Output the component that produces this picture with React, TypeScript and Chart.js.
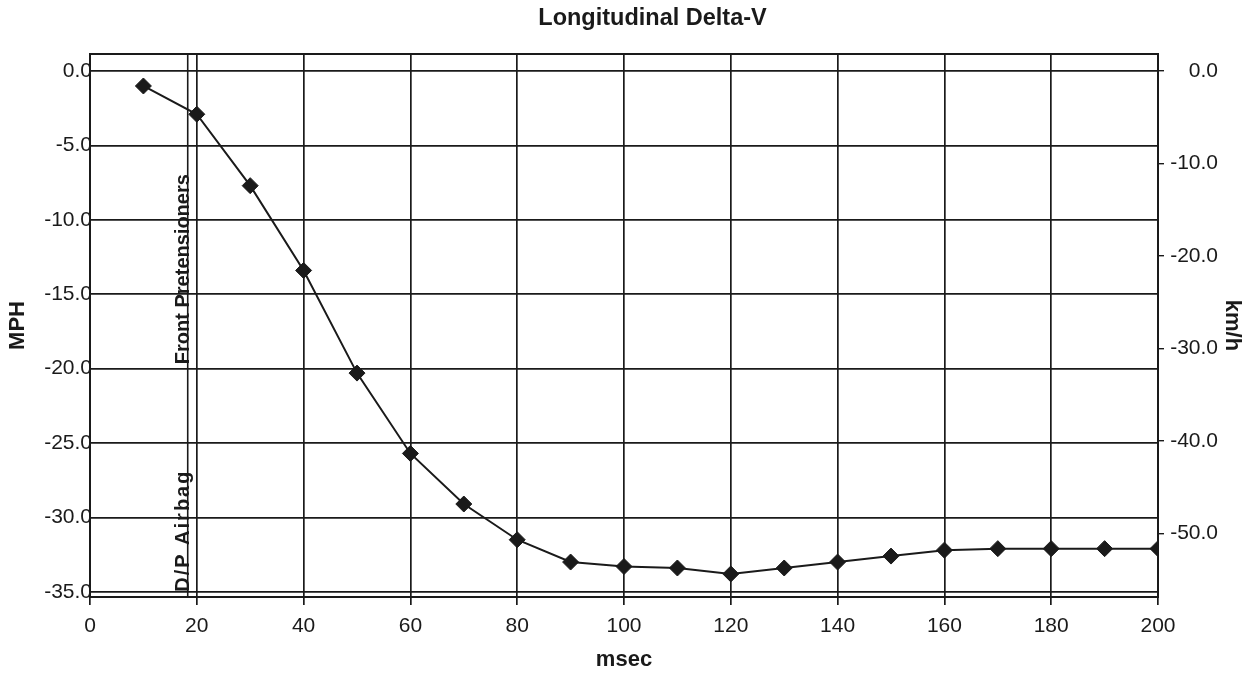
import React, { useEffect, useRef } from 'react';
import { Chart, registerables } from 'chart.js';

Chart.register(...registerables);

const timeMs = [10, 20, 30, 40, 50, 60, 70, 80, 90, 100, 110, 120, 130, 140, 150, 160, 170, 180, 190, 200];
const deltaVMph = [-1.0, -2.9, -7.7, -13.4, -20.3, -25.7, -29.1, -31.5, -33.0, -33.3, -33.4, -33.8, -33.4, -33.0, -32.6, -32.2, -32.1, -32.1, -32.1, -32.1];
const mphTicks = [0, -5, -10, -15, -20, -25, -30, -35];
const kmhTicks = [0, -10, -20, -30, -40, -50];
const eventTime = 18.3;
const eventLabels = ['Front Pretensioners', 'D/P Airbag'];
const eventLabelStartMph = [-19.7, -35.0];
const MPH_TO_KMH = 1.609344;
const yMinMph = -35.35;
const yMaxMph = 1.15;

const FONT = '"Liberation Sans", Arial, Helvetica, sans-serif';
const INK = '#1a1a1a';

const decorPlugin = {
  id: 'decor',
  beforeDatasetsDraw(chart: any) {
    const { ctx, chartArea, scales } = chart;
    const x = scales.x.getPixelForValue(eventTime);
    ctx.save();
    ctx.strokeStyle = INK;
    ctx.lineWidth = 1.6;
    ctx.beginPath();
    ctx.moveTo(x, chartArea.top);
    ctx.lineTo(x, chartArea.bottom);
    ctx.stroke();
    ctx.fillStyle = INK;
    ctx.font = `bold 20px ${FONT}`;
    ctx.textBaseline = 'alphabetic';
    ctx.textAlign = 'left';
    eventLabels.forEach((label, i) => {
      const y = scales.y.getPixelForValue(eventLabelStartMph[i]);
      ctx.save();
      ctx.translate(x + 1, y);
      ctx.rotate(-Math.PI / 2);
      (ctx as any).letterSpacing = i === 1 ? '2px' : '0px';
      ctx.fillText(label, 0, 0);
      ctx.restore();
    });
    ctx.restore();
  },
  afterDraw(chart: any) {
    const { ctx, chartArea } = chart;
    ctx.save();
    ctx.strokeStyle = INK;
    ctx.lineWidth = 2;
    ctx.strokeRect(chartArea.left, chartArea.top, chartArea.right - chartArea.left, chartArea.bottom - chartArea.top);
    ctx.fillStyle = INK;
    ctx.font = `bold 23.5px ${FONT}`;
    ctx.textAlign = 'center';
    ctx.textBaseline = 'middle';
    ctx.fillText('Longitudinal Delta-V', chart.width / 2 + 26, 19);
    // right axis title
    ctx.font = `bold 22px ${FONT}`;
    ctx.save();
    ctx.translate(chart.width - 21, (chartArea.top + chartArea.bottom) / 2);
    ctx.rotate(Math.PI / 2);
    ctx.fillText('km/h', 0, 0);
    ctx.restore();
    ctx.restore();
  },
};

export default function App() {
  const ref = useRef<HTMLCanvasElement | null>(null);

  useEffect(() => {
    if (!ref.current) return;
    const chart = new Chart(ref.current, {
      type: 'line',
      data: {
        datasets: [
          {
            data: timeMs.map((t, i) => ({ x: t, y: deltaVMph[i] })),
            borderColor: INK,
            backgroundColor: INK,
            borderWidth: 2,
            pointStyle: 'rectRot',
            pointRadius: 8,
            pointBorderWidth: 1,
            pointBackgroundColor: INK,
            pointBorderColor: INK,
            tension: 0,
            yAxisID: 'y',
          },
        ],
      },
      options: {
        animation: false,
        responsive: false,
        layout: { padding: { top: 54, left: 0, right: 35, bottom: 0 } },
        plugins: {
          legend: { display: false },
          title: { display: false },
          tooltip: { enabled: false },
        },
        scales: {
          x: {
            type: 'linear',
            position: 'bottom',
            min: 0,
            max: 200,
            ticks: {
              stepSize: 20,
              color: INK,
              font: { family: FONT, size: 21 },
              padding: 9,
              maxRotation: 0,
            },
            grid: { color: INK, lineWidth: 1.7, tickLength: 8, tickColor: INK },
            border: { display: true, color: INK, width: 2 },
            title: {
              display: true,
              text: 'msec',
              color: INK,
              font: { family: FONT, size: 22, weight: 'bold' },
              padding: { top: 0, bottom: 0 },
            },
            afterFit(scale: any) {
              scale.height = 76;
            },
          },
          y: {
            type: 'linear',
            position: 'left',
            min: yMinMph,
            max: yMaxMph,
            afterBuildTicks(scale: any) {
              scale.ticks = mphTicks.map((v) => ({ value: v }));
            },
            ticks: {
              color: INK,
              font: { family: FONT, size: 21 },
              padding: -2,
              callback: (v: any) => Number(v).toFixed(1),
            },
            grid: { color: INK, lineWidth: 1.7, drawTicks: false },
            border: { display: true, color: INK, width: 2 },
            title: {
              display: true,
              text: 'MPH',
              color: INK,
              font: { family: FONT, size: 22, weight: 'bold' },
              padding: { top: 5, bottom: 0 },
            },
            afterFit(scale: any) {
              scale.width = 90;
            },
          },
          y2: {
            type: 'linear',
            position: 'right',
            min: yMinMph * MPH_TO_KMH,
            max: yMaxMph * MPH_TO_KMH,
            afterBuildTicks(scale: any) {
              scale.ticks = kmhTicks.map((v) => ({ value: v }));
            },
            ticks: {
              color: INK,
              font: { family: FONT, size: 21 },
              padding: 3,
              crossAlign: 'far',
              callback: (v: any) => Number(v).toFixed(1),
            },
            grid: { drawOnChartArea: false, tickLength: 6, tickColor: INK, lineWidth: 1.4 },
            border: { display: true, color: INK, width: 2 },
            title: { display: false },
            afterFit(scale: any) {
              scale.width = 60;
            },
          },
        },
      } as any,
      plugins: [decorPlugin],
    });
    return () => chart.destroy();
  }, []);

  return (
    <div style={{ position: 'fixed', left: 0, top: 0, width: 1253, height: 673, background: '#fff' }}>
      <canvas ref={ref} width={1253} height={673} />
    </div>
  );
}
